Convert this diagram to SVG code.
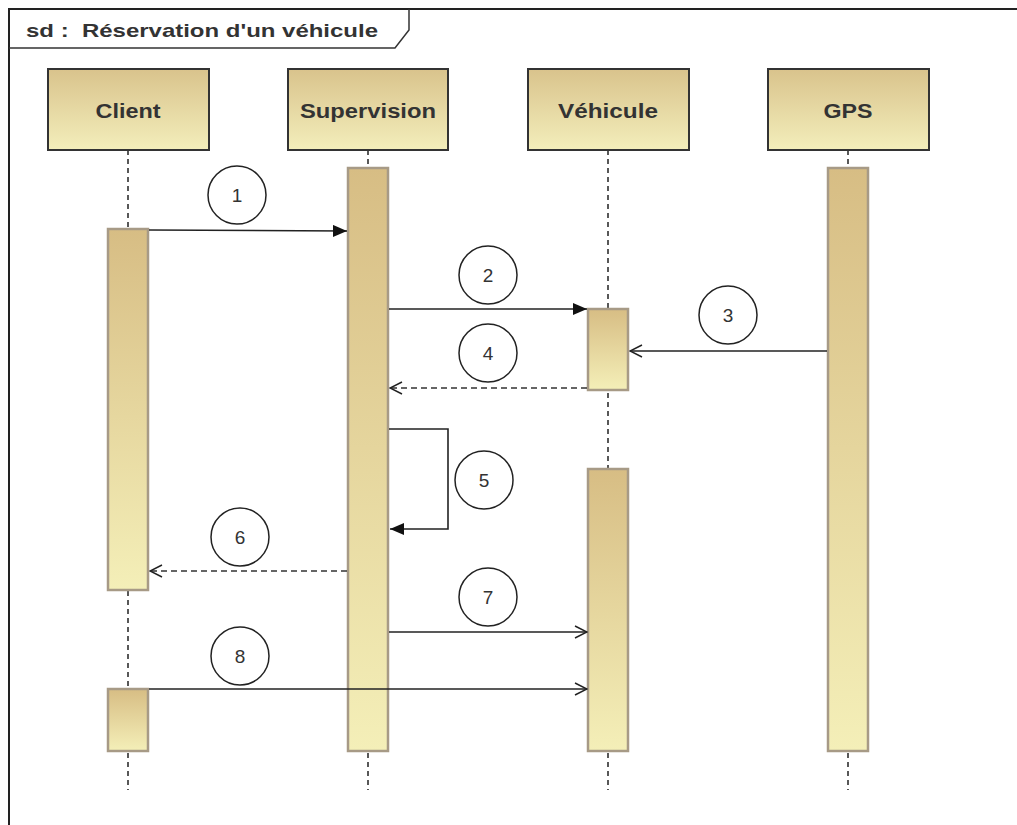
<svg xmlns="http://www.w3.org/2000/svg" width="1017" height="825" viewBox="0 0 1017 825">
<defs>
<linearGradient id="gHead" x1="0" y1="0" x2="0" y2="1">
<stop offset="0" stop-color="#d9c38c"/>
<stop offset="1" stop-color="#f3eebb"/>
</linearGradient>
<linearGradient id="gBar" x1="0" y1="0" x2="0" y2="1">
<stop offset="0" stop-color="#d7bd84"/>
<stop offset="1" stop-color="#f4efb8"/>
</linearGradient>
<marker id="mFill" markerWidth="14" markerHeight="12" refX="14" refY="6" orient="auto" markerUnits="userSpaceOnUse">
<path d="M0,0 L14,6 L0,12 Z" fill="#111"/>
</marker>
<marker id="mOpen" markerWidth="14" markerHeight="14" refX="13" refY="7" orient="auto" markerUnits="userSpaceOnUse">
<path d="M1,1 L13,7 L1,13" fill="none" stroke="#222" stroke-width="1.5"/>
</marker>
</defs>
<style>
.head{fill:url(#gHead);stroke:#333;stroke-width:2}
.bar{fill:url(#gBar);stroke:#a79a86;stroke-width:2.5}
.life{stroke:#222;stroke-width:1.5;stroke-dasharray:5,4;fill:none}
.lbl{font-family:"Liberation Sans",Arial,sans-serif;font-weight:bold;font-size:20px;fill:#333;text-anchor:middle}
.num{font-family:"Liberation Sans",Arial,sans-serif;font-size:19px;fill:#333;text-anchor:middle}
.circ{fill:#fff;stroke:#222;stroke-width:1.5}
.msg{stroke:#222;stroke-width:1.6;fill:none}
.ret{stroke:#333;stroke-width:1.6;fill:none;stroke-dasharray:6,4}
</style>
<rect x="0" y="0" width="1017" height="825" fill="#fff"/>
<g id="frame">
<path d="M9,825 L9,9 L1017,9" fill="none" stroke="#222" stroke-width="2"/>
<path d="M9,48 L395,48 L409,30 L409,9" fill="none" stroke="#333" stroke-width="1.5"/>
<text x="26" y="37" font-family="Liberation Sans,Arial,sans-serif" font-weight="bold" font-size="19" fill="#333" textLength="352" lengthAdjust="spacingAndGlyphs" xml:space="preserve">sd :  Réservation d'un véhicule</text>
</g>
<g id="lifelines">
<line class="life" x1="128" y1="150" x2="128" y2="790"/>
<line class="life" x1="368" y1="150" x2="368" y2="790"/>
<line class="life" x1="608" y1="150" x2="608" y2="790"/>
<line class="life" x1="848" y1="150" x2="848" y2="790"/>
</g>
<g id="client">
<rect class="head" x="48" y="69" width="161" height="81"/>
<text class="lbl" x="128" y="118" textLength="65" lengthAdjust="spacingAndGlyphs">Client</text>
<rect class="bar" x="108" y="229" width="40" height="361"/>
<rect class="bar" x="108" y="689" width="40" height="62"/>
</g>
<g id="supervision">
<rect class="head" x="288" y="69" width="160" height="81"/>
<text class="lbl" x="368" y="118" textLength="136" lengthAdjust="spacingAndGlyphs">Supervision</text>
<rect class="bar" x="348" y="168" width="40" height="583"/>
</g>
<g id="vehicule">
<rect class="head" x="528" y="69" width="161" height="81"/>
<text class="lbl" x="608" y="118" textLength="100" lengthAdjust="spacingAndGlyphs">Véhicule</text>
<rect class="bar" x="588" y="309" width="40" height="81"/>
<rect class="bar" x="588" y="469" width="40" height="282"/>
</g>
<g id="gps">
<rect class="head" x="768" y="69" width="161" height="81"/>
<text class="lbl" x="848" y="118" textLength="49" lengthAdjust="spacingAndGlyphs">GPS</text>
<rect class="bar" x="828" y="168" width="40" height="583"/>
</g>
<g id="connectors">
<line class="msg" x1="149" y1="230" x2="347" y2="231" marker-end="url(#mFill)"/>
<line class="msg" x1="389" y1="309" x2="587" y2="309" marker-end="url(#mFill)"/>
<line class="msg" x1="827" y1="351" x2="630" y2="351" marker-end="url(#mOpen)"/>
<line class="ret" x1="587" y1="388" x2="390" y2="388" marker-end="url(#mOpen)"/>
<path class="msg" d="M389,429 L448,429 L448,529 L390,529" marker-end="url(#mFill)"/>
<line class="ret" x1="347" y1="571" x2="150" y2="571" marker-end="url(#mOpen)"/>
<line class="msg" x1="389" y1="632" x2="587" y2="632" marker-end="url(#mOpen)"/>
<line class="msg" x1="149" y1="689" x2="587" y2="689" marker-end="url(#mOpen)"/>
</g>
<g id="labels">
<circle class="circ" cx="237" cy="195" r="29"/><text class="num" x="237" y="202">1</text>
<circle class="circ" cx="488" cy="275" r="29"/><text class="num" x="488" y="282">2</text>
<circle class="circ" cx="728" cy="315" r="29"/><text class="num" x="728" y="322">3</text>
<circle class="circ" cx="488" cy="353" r="29"/><text class="num" x="488" y="360">4</text>
<circle class="circ" cx="484" cy="480" r="29"/><text class="num" x="484" y="487">5</text>
<circle class="circ" cx="240" cy="537" r="29"/><text class="num" x="240" y="544">6</text>
<circle class="circ" cx="488" cy="597" r="29"/><text class="num" x="488" y="604">7</text>
<circle class="circ" cx="240" cy="656" r="29"/><text class="num" x="240" y="663">8</text>
</g>
</svg>
